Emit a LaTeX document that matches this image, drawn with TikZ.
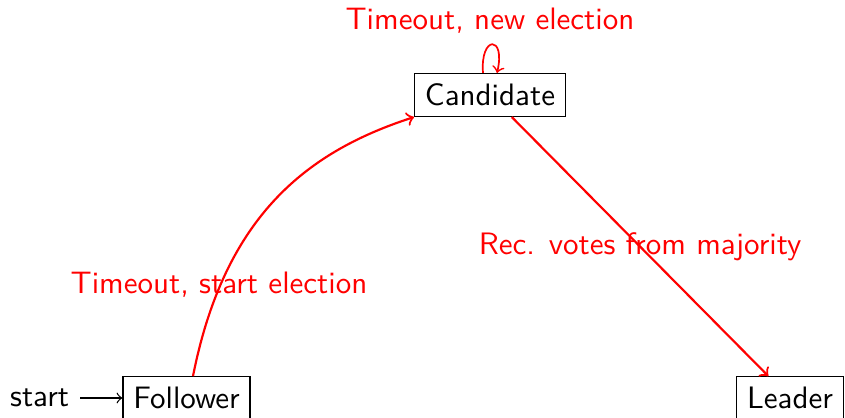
\documentclass[tikz,border=0pt]{standalone}
\usetikzlibrary{calc}
\begin{document}
\begin{tikzpicture}[x=0.3225pt,y=-0.3225pt,font=\sffamily,
  state/.style={draw,line width=0.4pt,rectangle,inner sep=3.333pt},
  trans/.style={->,red,line width=0.7pt},
  lbl/.style={text=red,inner sep=0pt}]
\useasboundingbox (0,0) rectangle (845,417);
\clip (0,0) rectangle (845,417);
% states
\node[state] (C) at (490,95) {Candidate};
\node[state] (F) at (186.5,398) {Follower};
\node[state] (L) at (790,398) {Leader};
% initial marker
\node[anchor=east] (s) at (80,398) {start};
\draw[->,line width=0.4pt] (s) -- (F);
% follower -> candidate
\coordinate (fout) at ($(F.north)+(6.5,0)$);
\draw[trans] (fout) .. controls ($(fout)+(32,-162)$) and ($(C.south west)+(-105,34)$) .. (C.south west);
\node[lbl,anchor=base] (l1) at (219,293.5) {Timeout, start election};
% candidate self loop
\coordinate (la) at ($(C.north)+(-7,0)$);
\coordinate (lb) at ($(C.north)+(7,0)$);
\draw[trans,line width=0.55pt] (la) .. controls ($(C.north)+(-10,-38)$) and ($(C.north)+(16,-38)$) .. (lb);
\node[lbl,anchor=base] (l2) at (490,29.5) {Timeout, new election};
% candidate -> leader
\draw[trans] (C) -- (L) node[lbl,midway] (l3) {Rec. votes from majority};
\end{tikzpicture}
\end{document}
